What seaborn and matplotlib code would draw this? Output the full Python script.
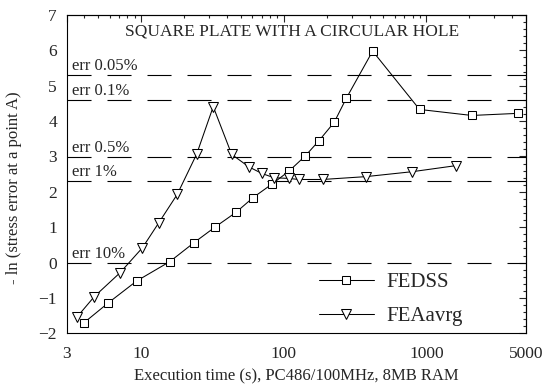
import numpy as np
import pandas as pd
import matplotlib
matplotlib.use("Agg")
import matplotlib.pyplot as plt
from matplotlib.ticker import FixedLocator, NullFormatter, FixedFormatter
import seaborn as sns

# Execution time (s) and -ln(stress error) for both solvers
fedss_time = [3.97, 5.87, 9.29, 15.9, 23.4, 33.1, 46.2, 61, 82.6, 109, 141, 176, 226, 274, 420, 896, 2085, 4407]
fedss_val = [-1.70, -1.14, -0.52, 0.03, 0.56, 1.01, 1.42, 1.84, 2.22, 2.59, 3.01, 3.44, 3.97, 4.64, 5.98, 4.33, 4.16, 4.22]

feaavrg_time = [3.56, 4.69, 7.09, 10.2, 13.3, 17.9, 24.5, 32, 43.1, 56.7, 70.2, 85.3, 108, 127.8, 187, 375, 796, 1604]
feaavrg_val = [-1.53, -0.96, -0.29, 0.42, 1.13, 1.93, 3.07, 4.41, 3.06, 2.71, 2.52, 2.40, 2.38, 2.35, 2.35, 2.43, 2.57, 2.74]

# Reference error levels (percent) and their labels
err_levels = [0.05, 0.1, 0.5, 1, 10]
err_labels = ["err 0.05%", "err 0.1%", "err 0.5%", "err 1%", "err 10%"]

x_major = [3, 10, 100, 1000, 5000]
x_major_labels = ["3", "10", "100", "1000", "5000"]
x_minor = [4, 5, 6, 7, 8, 9, 20, 30, 40, 50, 60, 70, 80, 90,
           200, 300, 400, 500, 600, 700, 800, 900, 2000, 3000, 4000]

sns.set_style("white")
plt.rcParams["font.family"] = ["Liberation Serif", "DejaVu Serif"]
plt.rcParams["lines.scale_dashes"] = False
plt.rcParams["axes.linewidth"] = 0.8

fig = plt.figure(figsize=(5.42, 3.85), dpi=100)
ax = fig.add_axes([0.123, 0.1342, 0.8475, 0.8268])

df_fedss = pd.DataFrame({"time": fedss_time, "val": fedss_val})
df_fea = pd.DataFrame({"time": feaavrg_time, "val": feaavrg_val})

sns.lineplot(data=df_fedss, x="time", y="val", ax=ax, color="black", lw=0.75,
             marker="s", markersize=6, markerfacecolor="white",
             markeredgecolor="black", markeredgewidth=0.75, label="FEDSS")
sns.lineplot(data=df_fea, x="time", y="val", ax=ax, color="black", lw=0.75,
             marker="v", markersize=7.5, markerfacecolor="white",
             markeredgecolor="black", markeredgewidth=0.75, label="FEAavrg")

ax.set_xscale("log")
ax.set_xlim(3, 5000)
ax.set_ylim(-2, 7)

# Dashed error-level lines with their labels
for lev, lab in zip(err_levels, err_labels):
    yv = -np.log(lev / 10.0)
    ax.axhline(yv, color="black", lw=0.8, dashes=(17.3, 11.5), zorder=1)
    ax.text(3.25, yv + 0.02, lab, fontsize=12, va="bottom", ha="left")

ax.text(0.49, 6.53, "SQUARE PLATE WITH A CIRCULAR HOLE", fontsize=12.5,
        ha="center", va="center", transform=ax.get_yaxis_transform())

# Axis ticks: outward on left/bottom, inward on top/right
ax.xaxis.set_major_locator(FixedLocator(x_major))
ax.xaxis.set_major_formatter(FixedFormatter(x_major_labels))
ax.xaxis.set_minor_locator(FixedLocator(x_minor))
ax.xaxis.set_minor_formatter(NullFormatter())
ax.yaxis.set_major_locator(FixedLocator(np.arange(-2, 8, 1)))
ax.yaxis.set_minor_locator(FixedLocator(np.arange(-2, 7.01, 0.2)))
ax.tick_params(which="major", direction="out", length=5, width=0.8, labelsize=12.5)
ax.tick_params(axis="x", which="major", pad=4)
ax.tick_params(axis="y", which="major", pad=2)
ax.tick_params(which="minor", direction="out", length=2.5, width=0.8)

top = ax.secondary_xaxis("top", functions=(lambda v: v, lambda v: v))
top.xaxis.set_major_locator(FixedLocator(x_major))
top.xaxis.set_minor_locator(FixedLocator(x_minor))
top.xaxis.set_major_formatter(NullFormatter())
top.xaxis.set_minor_formatter(NullFormatter())
top.tick_params(which="major", direction="in", length=5, width=0.8)
top.tick_params(which="minor", direction="in", length=2.5, width=0.8)

right = ax.secondary_yaxis("right", functions=(lambda v: v, lambda v: v))
right.yaxis.set_major_locator(FixedLocator(np.arange(-2, 8, 1)))
right.yaxis.set_minor_locator(FixedLocator(np.arange(-2, 7.01, 0.2)))
right.yaxis.set_major_formatter(NullFormatter())
right.tick_params(which="major", direction="in", length=5, width=0.8)
right.tick_params(which="minor", direction="in", length=2.5, width=0.8)

for sp in ax.spines.values():
    sp.set_color("black")
    sp.set_linewidth(0.8)

ax.set_xlabel("Execution time (s), PC486/100MHz, 8MB RAM", fontsize=12, labelpad=5)
ax.set_ylabel("- ln (stress error at a point A)", fontsize=12)
ax.yaxis.set_label_coords(-0.097, 0.456)

leg = ax.legend(loc="upper left", bbox_to_anchor=(0.549, 0.19), frameon=False,
                fontsize=15, handlelength=2.64, handletextpad=0.58,
                borderpad=0, borderaxespad=0, labelspacing=0.68)

fig.savefig("out.png", dpi=100)
